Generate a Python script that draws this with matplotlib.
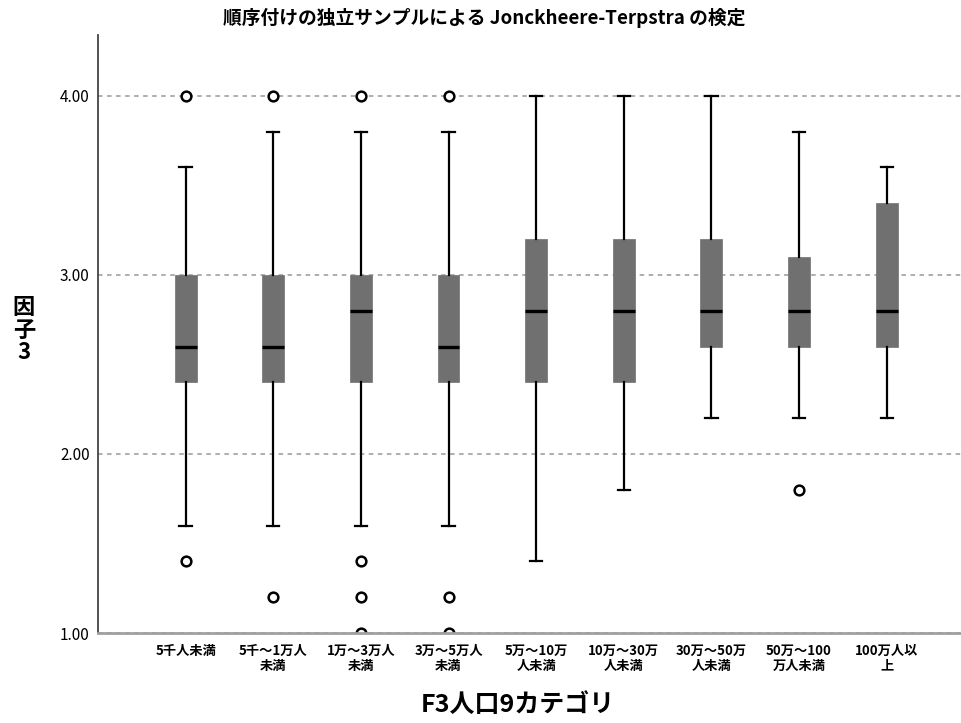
import matplotlib
matplotlib.use("Agg")
import matplotlib.pyplot as plt

plt.rcParams['font.family'] = ['Noto Sans CJK JP', 'DejaVu Sans']

categories = ["5千人未満", "5千～1万人\n未満", "1万～3万人\n未満", "3万～5万人\n未満",
              "5万～10万\n人未満", "10万～30万\n人未満", "30万～50万\n人未満",
              "50万～100\n万人未満", "100万人以\n上"]
whisker_low = [1.6, 1.6, 1.6, 1.6, 1.4, 1.8, 2.2, 2.2, 2.2]
q1 = [2.4, 2.4, 2.4, 2.4, 2.4, 2.4, 2.6, 2.6, 2.6]
median = [2.6, 2.6, 2.8, 2.6, 2.8, 2.8, 2.8, 2.8, 2.8]
q3 = [3.0, 3.0, 3.0, 3.0, 3.2, 3.2, 3.2, 3.1, 3.4]
whisker_high = [3.6, 3.8, 3.8, 3.8, 4.0, 4.0, 4.0, 3.8, 3.6]
outliers = [[4.0, 1.4], [4.0, 1.2], [4.0, 1.4, 1.2, 1.0], [4.0, 1.2, 1.0],
            [], [], [], [1.8], []]
yticks = [1.0, 2.0, 3.0, 4.0]

title = "順序付けの独立サンプルによる Jonckheere-Terpstra の検定"
xlabel = "F3人口9カテゴリ"
ylabel = "因\n子\n3"

stats = []
for i in range(len(categories)):
    stats.append(dict(whislo=whisker_low[i], q1=q1[i], med=median[i], q3=q3[i],
                      whishi=whisker_high[i], fliers=outliers[i], label=categories[i]))

fig = plt.figure(figsize=(9.62, 7.23), dpi=100)
ax = fig.add_axes([98/962, 1 - 633/723, 1 - 98/962, (633 - 35)/723])

positions = list(range(1, len(categories) + 1))
ax.bxp(stats, positions=positions, widths=0.25, patch_artist=True,
       showfliers=True, capwidths=0.14,
       boxprops=dict(facecolor="#707070", edgecolor="#707070", linewidth=0.5),
       medianprops=dict(color="black", linewidth=2.4),
       whiskerprops=dict(color="black", linewidth=1.6),
       capprops=dict(color="black", linewidth=1.6),
       flierprops=dict(marker="o", markerfacecolor="white", markeredgecolor="black",
                       markersize=7, markeredgewidth=1.8))

ax.set_xlim(0, 9.86)
ax.set_ylim(1.0, 4.34)
ax.set_yticks(yticks)
ax.set_yticklabels([f"{v:.2f}" for v in yticks], fontsize=11)
ax.set_xticks(positions)
ax.set_xticklabels(categories, fontsize=9.5, fontweight="bold", linespacing=1.05)
ax.tick_params(axis="both", length=0, pad=6)
ax.tick_params(axis="x", pad=8)

ax.yaxis.grid(True, linestyle=(0, (2.5, 2.5)), color="#a8a8a8", linewidth=1.3)
ax.set_axisbelow(True)
for s in ["top", "right"]:
    ax.spines[s].set_visible(False)
ax.spines["left"].set_color("#444444")
ax.spines["left"].set_linewidth(1.3)
ax.spines["bottom"].set_color("#a0a0a0")
ax.spines["bottom"].set_linewidth(2.0)

fig.text(484/962, 1 - 18/723, title, ha="center", va="center", fontsize=13.5, fontweight="bold")
fig.text(518/962, 1 - 705/723, xlabel, ha="center", va="center", fontsize=18, fontweight="bold")
fig.text(24/962, 1 - 330/723, ylabel, ha="center", va="center", fontsize=16, fontweight="bold",
         linespacing=0.95)

fig.savefig("out.png", dpi=100)
